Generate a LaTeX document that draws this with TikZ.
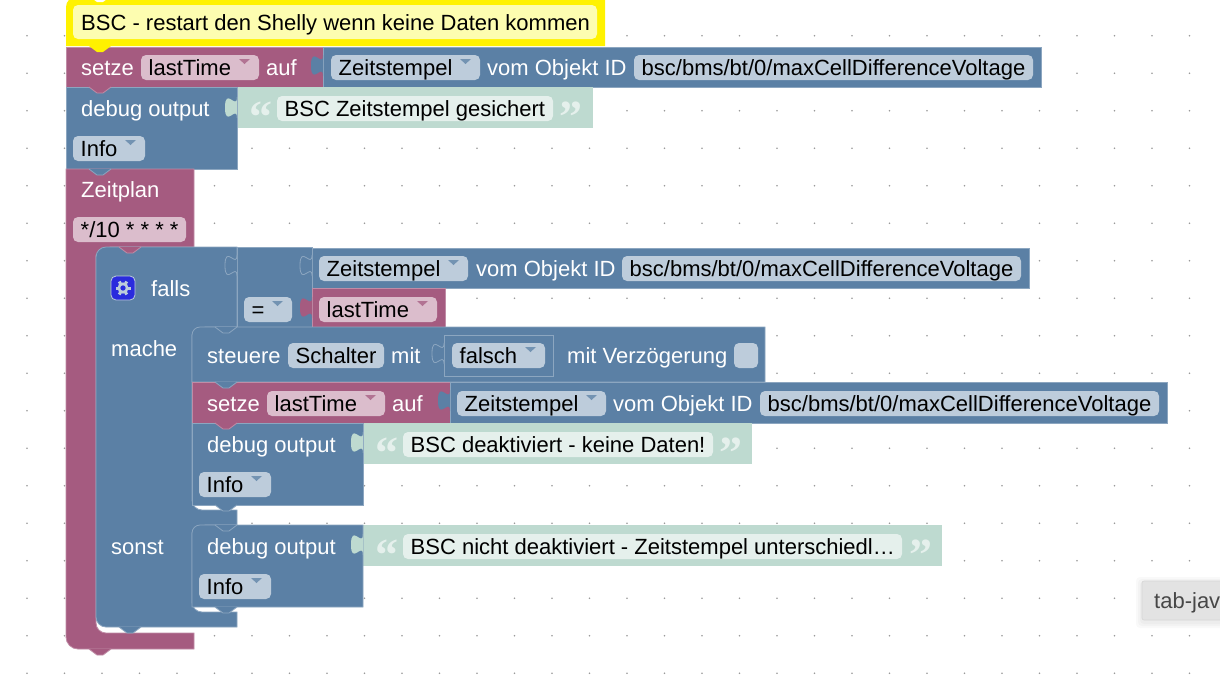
\documentclass[tikz,border=0pt]{standalone}
\usepackage{fontspec}
\setmainfont{Liberation Sans}
\newfontfamily\quotefont{Liberation Serif}
\usetikzlibrary{positioning}
\definecolor{blockblue}{HTML}{5B80A5}
\definecolor{blueedge}{HTML}{8CA6C0}
\definecolor{bluefield}{HTML}{BDCCDB}
\definecolor{blockpurple}{HTML}{A55B80}
\definecolor{purpleedge}{HTML}{C08CA6}
\definecolor{purplefield}{HTML}{DBBDCC}
\definecolor{blockgreen}{HTML}{BEDAD0}
\definecolor{greenfield}{HTML}{E5F0EC}
\definecolor{notepale}{HTML}{FDFDB0}
\definecolor{griddot}{HTML}{9A9A9A}
\definecolor{gearbutton}{HTML}{2A2BDD}
\tikzset{
  blueblock/.style={fill=blockblue,draw=blueedge,line width=.8pt},
  purpleblock/.style={fill=blockpurple,draw=purpleedge,line width=.8pt},
  greenblock/.style={fill=blockgreen},
  blueplug/.style={fill=blockblue},
  purpleplug/.style={fill=blockpurple},
  greenplug/.style={fill=blockgreen},
  openplug/.style={fill=blockblue,draw=blueedge,line width=.8pt},
  bfield/.style={fill=bluefield,rounded corners=5pt},
  pfield/.style={fill=purplefield,rounded corners=5pt},
  gfield/.style={fill=greenfield,rounded corners=5pt},
  bmark/.style={fill=blockblue!75!bluefield},
  pmark/.style={fill=blockpurple!75!purplefield},
  blocklabel/.style={anchor=base west,inner sep=0pt,text=white,font=\fontsize{22}{26}\selectfont},
  fieldtext/.style={anchor=base west,inner sep=0pt,text=black,font=\fontsize{22}{26}\selectfont},
  quotemark/.style={anchor=base west,inner sep=0pt,text=greenfield,font=\quotefont\bfseries\fontsize{46}{50}\selectfont},
}
% value tab, notch, fields
\newcommand{\plugtab}[3]{\path[#1,shift={(#2,#3)}] (0,0) .. controls (0,14) and (-12,-11) .. (-12,10.5) .. controls (-12,32) and (0,7) .. (0,21);}
\newcommand{\notchtab}[4]{\path[#1] (#2-11,#3) -- (#2-3,#3+#4) -- (#2+3,#3+#4) -- (#2+11,#3);}
\newcommand{\fieldbox}[6]{\path[#1] (#3,#5-20) rectangle (#4,#5+5); \node[fieldtext] (#2) at (#3+7.5,#5) {#6};}
\newcommand{\dropfield}[7]{\fieldbox{#1}{#3}{#4}{#5}{#6}{#7}\path[#2] (#5-20,#6-16) -- (#5-9,#6-16) -- (#5-14.5,#6-11) -- cycle;}
\begin{document}
\begin{tikzpicture}[x=1pt,y=-1pt]
\useasboundingbox (0,0) rectangle (1220,694);
\fill[white] (0,0) rectangle (1220,694);
\foreach \i in {0,...,31}
  \foreach \j in {0,...,17}
    \fill[griddot] (27+37.5*\i,35.7+37.5*\j) circle (.9);

% comment
\path[fill=yellow] (66,46) [rounded corners=10] -- (66,-3) [sharp corners] -- (605,-3) -- (605,46) -- cycle;
\path[fill=white] (89,-4) -- (97,2) -- (103,2) -- (111,-4) -- cycle;
\path[fill=notepale,rounded corners=5pt] (73,5) rectangle (597,39);
\node[fieldtext] (note) at (81,30) {BSC - restart den Shelly wenn keine Daten kommen};

% top stack
\path[purpleblock] (66,47) rectangle (323,87);
\path[blueblock] (323,47) rectangle (1041,87);
\path[greenblock] (237,87) rectangle (593,128);
\path[blueblock] (66,87) rectangle (237,169);
\plugtab{blueplug}{323}{55}
\plugtab{greenplug}{237}{97}

% Zeitplan, falls
\path[purpleblock] (66,169) -- (194,169) -- (194,247) -- (110,247) -- (110,255) -- (96,255) [rounded corners=10] -- (96,633) [sharp corners] -- (194,633) -- (194,649) [rounded corners=12] -- (66,649) [sharp corners] -- cycle;
\path[blueblock] (237,247) -- (237,327) -- (205,327) -- (205,335) -- (192,335) [rounded corners=10] -- (192,510) [sharp corners] -- (237,510) -- (237,525) -- (205,525) -- (205,533) -- (192,533) [rounded corners=10] -- (192,612) [sharp corners] -- (237,612) -- (237,627) [rounded corners=10] -- (96,627) -- (96,247) [sharp corners] -- cycle;
\path[blueblock] (237,247) rectangle (312,327);
\path[blueblock] (312,248) rectangle (1029,288);
\path[purpleblock] (312,288) rectangle (445,327);
\plugtab{openplug}{237}{255}
\plugtab{openplug}{312}{255}
\plugtab{purpleplug}{312}{297}

% mache
\path[blueblock] (192,382) [rounded corners=8] -- (192,327) [sharp corners] -- (765,327) -- (765,382) -- cycle;
\path[purpleblock] (192,382) rectangle (450,423);
\path[blueblock] (450,382) rectangle (1167,423);
\path[greenblock] (363,423) rectangle (752,464);
\path[blueblock] (192,423) rectangle (363,505);
\path[blueblock] (444,335) rectangle (553,376);
\plugtab{openplug}{444}{343}
\plugtab{blueplug}{450}{390}
\plugtab{greenplug}{363}{432}

% sonst
\path[greenblock] (363,525) rectangle (942,566);
\path[blueblock] (192,607) [rounded corners=8] -- (192,525) [sharp corners] -- (363,525) -- (363,607) -- cycle;
\plugtab{greenplug}{363}{534}

% notches
\notchtab{fill=yellow}{100}{46}{6}
\notchtab{purpleblock}{100}{87}{6}
\notchtab{blueblock}{100}{169}{6}
\notchtab{purpleblock}{130}{247}{6}
\notchtab{blueblock}{226}{327}{6}
\notchtab{blueblock}{226}{382}{6}
\notchtab{purpleblock}{226}{423}{6}
\notchtab{blueblock}{226}{505}{6}
\notchtab{blueblock}{226}{525}{6}
\notchtab{blueblock}{226}{607}{6}
\notchtab{blueblock}{130}{627}{6}
\notchtab{purpleblock}{100}{649}{6}

% row 1
\node[blocklabel] (setzeA) at (81,75) {setze};
\dropfield{pfield}{pmark}{lastA}{141}{259}{75}{lastTime}
\node[blocklabel] (aufA) at (266,75) {auf};
\dropfield{bfield}{bmark}{zeitA}{331}{480}{75}{Zeitstempel}
\node[blocklabel] (vomA) at (487,75) {vom Objekt ID};
\fieldbox{bfield}{oidA}{634}{1033}{75}{bsc/bms/bt/0/maxCellDifferenceVoltage}
\node[blocklabel] (debugA) at (81,116) {debug output};
\node[quotemark] (openA) at (249,132) {“};
\fieldbox{gfield}{textA}{277}{553}{116}{BSC Zeitstempel gesichert}
\node[quotemark] (closeA) at (559,132) {”};
\dropfield{bfield}{bmark}{infoA}{73}{145}{156}{Info}
\node[blocklabel] (plan) at (81,197) {Zeitplan};
\fieldbox{pfield}{cron}{73}{186}{237}{*/10 * * * *}

% falls
\path[fill=gearbutton,draw=bluefield,line width=.8pt,rounded corners=5pt] (111,276) rectangle (135,300);
\foreach \a in {0,60,...,300}
  \draw[bluefield,line width=3pt] (123,288) ++(\a:4) -- ++(\a:3.5);
\draw[bluefield,line width=2.6pt] (123,288) circle (4.2);
\node[blocklabel] (falls) at (151,296) {falls};
\dropfield{bfield}{bmark}{zeitB}{319}{468}{276}{Zeitstempel}
\node[blocklabel] (vomB) at (476,276) {vom Objekt ID};
\fieldbox{bfield}{oidB}{622}{1021}{276}{bsc/bms/bt/0/maxCellDifferenceVoltage}
\dropfield{bfield}{bmark}{equal}{244}{292}{317}{=}
\dropfield{pfield}{pmark}{lastB}{319}{437}{317}{lastTime}

% mache
\node[blocklabel] (mache) at (111,356) {mache};
\node[blocklabel] (steuere) at (207,363) {steuere};
\fieldbox{bfield}{schalter}{288}{384}{363}{Schalter}
\node[blocklabel] (mitA) at (391,363) {mit};
\dropfield{bfield}{bmark}{falsch}{452}{545}{363}{falsch}
\node[blocklabel] (mitB) at (567,363) {mit Verzögerung};
\path[bfield] (734,343) rectangle (758,368);
\node[blocklabel] (setzeB) at (207,411) {setze};
\dropfield{pfield}{pmark}{lastC}{267}{385}{411}{lastTime}
\node[blocklabel] (aufB) at (392,411) {auf};
\dropfield{bfield}{bmark}{zeitC}{457}{606}{411}{Zeitstempel}
\node[blocklabel] (vomC) at (613,411) {vom Objekt ID};
\fieldbox{bfield}{oidC}{760}{1159}{411}{bsc/bms/bt/0/maxCellDifferenceVoltage}
\node[blocklabel] (debugB) at (207,452) {debug output};
\node[quotemark] (openB) at (375,468) {“};
\fieldbox{gfield}{textB}{403}{713}{452}{BSC deaktiviert - keine Daten!}
\node[quotemark] (closeB) at (719,468) {”};
\dropfield{bfield}{bmark}{infoB}{199}{271}{492}{Info}

% sonst
\node[blocklabel] (sonst) at (111,554) {sonst};
\node[blocklabel] (debugC) at (207,554) {debug output};
\node[quotemark] (openC) at (375,570) {“};
\fieldbox{gfield}{textC}{403}{902}{554}{BSC nicht deaktiviert - Zeitstempel unterschiedl…}
\node[quotemark] (closeC) at (909,570) {”};
\dropfield{bfield}{bmark}{infoC}{199}{271}{594}{Info}

% tooltip
\foreach \s in {6,4,2}
  \path[fill=black,opacity=.025,rounded corners=4] (1142-\s,581-\s+2) rectangle (1240,620+\s+2);
\path[fill=black!11,draw=black!16,line width=.6pt,rounded corners=2] (1142,581) rectangle (1240,620);
\node[anchor=base west,inner sep=0pt,text=black!72,font=\fontsize{22}{26}\selectfont] (tab) at (1154,608) {tab-jav};
\end{tikzpicture}
\end{document}
